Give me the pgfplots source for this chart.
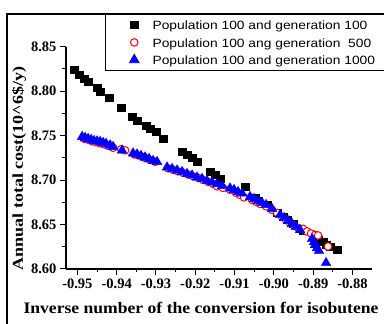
\documentclass[border=0pt]{standalone}
\usepackage{fontspec}
\setmainfont{Liberation Serif}
\newfontfamily\legfont{Liberation Sans}
\usepackage{graphicx}
\usepackage{pgfplots}
\pgfplotsset{compat=1.18}

\pgfplotstableread{
x y
-0.95084 8.8241
-0.94957 8.8185
-0.94830 8.8140
-0.94728 8.8106
-0.94499 8.8038
-0.94422 8.7993
-0.94193 8.7926
-0.93888 8.7813
-0.93608 8.7712
-0.93481 8.7667
-0.93252 8.7610
-0.93150 8.7577
-0.92997 8.7543
-0.92819 8.7464
-0.92336 8.7318
-0.92208 8.7284
-0.92081 8.7250
-0.91954 8.7205
-0.91623 8.7092
-0.91496 8.7059
-0.91369 8.7014
-0.90733 8.6923
-0.90478 8.6800
-0.90402 8.6766
-0.90173 8.6721
-0.89918 8.6631
-0.89766 8.6586
-0.89664 8.6552
-0.89511 8.6507
-0.89333 8.6450
-0.89257 8.6428
-0.88875 8.6327
-0.88748 8.6304
-0.88672 8.6270
-0.88570 8.6248
-0.88392 8.6214
}\gena

\pgfplotstableread{
x y
-0.94830 8.7464
-0.94728 8.7453
-0.94626 8.7436
-0.94524 8.7425
-0.94422 8.7413
-0.94321 8.7402
-0.94219 8.7385
-0.94092 8.7363
-0.93888 8.7346
-0.93786 8.7334
-0.93557 8.7289
-0.93455 8.7278
-0.93354 8.7261
-0.93252 8.7244
-0.93150 8.7227
-0.93023 8.7205
-0.92692 8.7132
-0.92565 8.7115
-0.92438 8.7098
-0.92310 8.7081
-0.92183 8.7064
-0.92056 8.7042
-0.91929 8.7025
-0.91802 8.7002
-0.91674 8.6980
-0.91547 8.6957
-0.91445 8.6929
-0.91293 8.6912
-0.91115 8.6890
-0.90962 8.6856
-0.90860 8.6833
-0.90758 8.6805
-0.90555 8.6777
-0.90453 8.6755
-0.90351 8.6732
-0.90198 8.6704
-0.90046 8.6664
-0.89919 8.6631
-0.89791 8.6586
-0.89690 8.6552
-0.89588 8.6518
-0.89486 8.6490
-0.89384 8.6462
-0.89257 8.6450
-0.89155 8.6422
-0.89053 8.6400
-0.88952 8.6383
-0.88875 8.6377
-0.88621 8.6253
}\genb

\pgfplotstableread{
x y
-0.94880 8.7486
-0.94804 8.7475
-0.94728 8.7464
-0.94651 8.7453
-0.94575 8.7441
-0.94499 8.7436
-0.94422 8.7430
-0.94346 8.7419
-0.94270 8.7408
-0.94168 8.7391
-0.94092 8.7374
-0.93863 8.7334
-0.93583 8.7301
-0.93481 8.7289
-0.93379 8.7273
-0.93277 8.7256
-0.93176 8.7239
-0.93074 8.7216
-0.92972 8.7205
-0.92718 8.7143
-0.92590 8.7126
-0.92463 8.7109
-0.92336 8.7092
-0.92209 8.7070
-0.92081 8.7053
-0.91954 8.7030
-0.91827 8.7014
-0.91700 8.6991
-0.91573 8.6974
-0.91445 8.6957
-0.91318 8.6935
-0.91115 8.6907
-0.91013 8.6890
-0.90911 8.6867
-0.90809 8.6850
-0.90606 8.6811
-0.90504 8.6788
-0.90402 8.6766
-0.90300 8.6743
-0.90198 8.6721
-0.90046 8.6676
-0.89842 8.6608
-0.89740 8.6574
-0.89639 8.6541
-0.89537 8.6507
-0.89435 8.6473
-0.89333 8.6439
-0.89028 8.6338
-0.88977 8.6304
-0.88952 8.6270
-0.88901 8.6236
-0.88850 8.6203
-0.88672 8.6068
}\genc

\begin{document}
\begin{tikzpicture}[x=1pt,y=1pt]
\useasboundingbox (0,0) rectangle (384,324);
\begin{axis}[
  at={(66pt,55pt)}, anchor=south west,
  scale only axis, width=305.7pt, height=222.4pt,
  xmin=-0.9529, xmax=-0.8751, ymin=8.60, ymax=8.85,
  axis x line*=bottom, axis y line*=left,
  axis line style={line width=1.2pt, -},
  xtick={-0.95,-0.94,-0.93,-0.92,-0.91,-0.90,-0.89,-0.88},
  ytick={8.60,8.65,8.70,8.75,8.80,8.85},
  minor tick num=1,
  tick align=outside,
  major tick length=6pt, minor tick length=3.5pt,
  tick style={line width=1pt, black},
  /pgf/number format/assume math mode=true,
  /pgf/number format/.cd, fixed, fixed zerofill, precision=2, /pgfplots/.cd,
  ticklabel style={font=\bfseries\fontsize{14.5}{17}\selectfont},
  xlabel={\scalebox{1.1}[1]{Inverse number of the conversion for isobutene}},
  xlabel style={font=\bfseries\fontsize{16}{19}\selectfont, at={(axis description cs:0.4416,-0.2023)}, anchor=base},
  ylabel={\scalebox{1.2}[1]{Annual total cost(10\textasciicircum 6\$/y)}},
  ylabel style={font=\bfseries\fontsize{15}{18}\selectfont, at={(axis description cs:-0.1537,0.452)}, anchor=center},
  legend style={
    at={(axis description cs:0.1276,1.1466)}, anchor=north west,
    draw=black, line width=0.8pt, fill=white,
    inner xsep=24pt, inner ysep=3pt,
    row sep=2.5pt,
    font=\legfont\fontsize{12}{14}\selectfont,
    nodes={inner sep=1.5pt, text height=10.8pt, text depth=1.2pt},
    /tikz/every odd column/.append style={column sep=12pt},
  },
  legend cell align=left,
  clip=false,
]
\addplot[only marks, mark=square*, mark size=3.7pt, black] table {\gena};
\addlegendentry{\makebox[240pt][l]{\scalebox{1.15}[1]{Population 100 and generation 100}}}
\addplot[only marks, mark=*, mark size=3.8pt, mark options={draw=red, fill=white, line width=1pt}] table {\genb};
\addlegendentry{\makebox[240pt][l]{\scalebox{1.15}[1]{Population 100 ang generation~~500}}}
\addplot[only marks, mark=triangle*, mark size=5.6pt, blue] table {\genc};
\addlegendentry{\makebox[240pt][l]{\scalebox{1.15}[1]{Population 100 and generation 1000}}}
\end{axis}
\draw[line width=2pt] (7,-5) -- (7,310) -- (400,310);
\end{tikzpicture}
\end{document}
